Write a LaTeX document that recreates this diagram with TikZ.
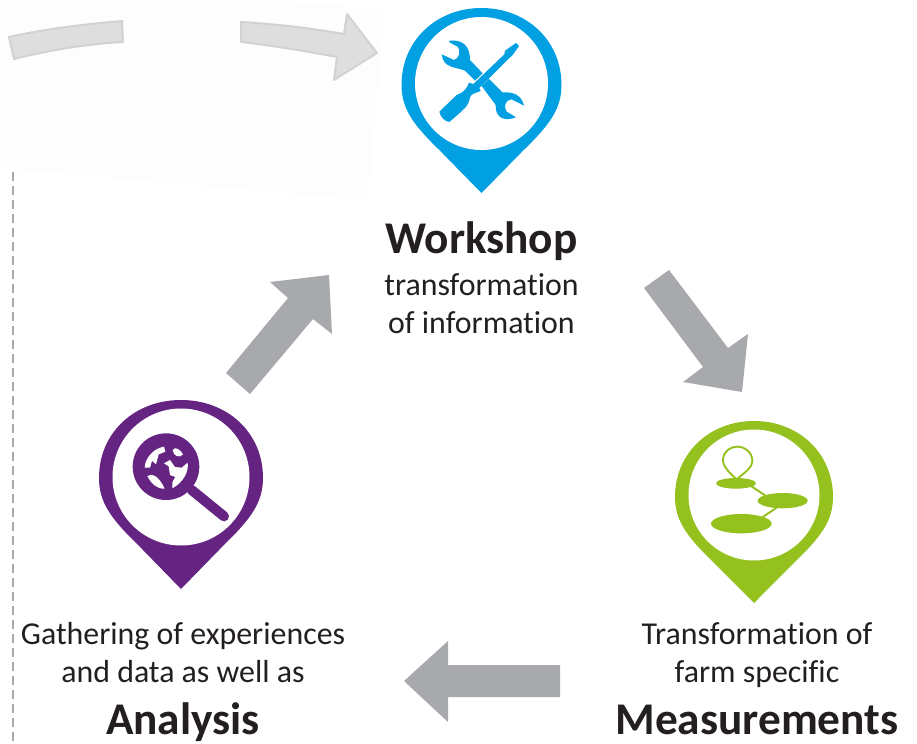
\documentclass[tikz,border=0pt]{standalone}
\usepackage{fontspec}
\setmainfont[Ligatures=NoCommon]{Carlito}
\definecolor{pinblue}{HTML}{00A0E3}
\definecolor{pinpurple}{HTML}{662482}
\definecolor{pingreen}{HTML}{95C11F}
\definecolor{arrowgrey}{HTML}{A7A9AC}
\definecolor{textdark}{HTML}{231F20}
\definecolor{patchwhite}{HTML}{FDFDFD}
\definecolor{faintgrey}{HTML}{DEDEDE}
\definecolor{faintedge}{HTML}{D2D2D2}
\newcommand{\pinmark}[7]{% cx top r midy tip innercy innerr ; colour set by scope
  \fill ({#1},{#2}) .. controls ({#1+.56*#3},{#2}) and ({#1+#3},{#4-.56*#3}) .. ({#1+#3},{#4})
    .. controls ({#1+#3},{#4+.3*#3}) and ({#1+.85*#3},{#4+.5*#3}) .. ({#1+.52*#3},{#4+.82*#3})
    -- ({#1},{#5}) -- ({#1-.52*#3},{#4+.82*#3})
    .. controls ({#1-.85*#3},{#4+.5*#3}) and ({#1-#3},{#4+.3*#3}) .. ({#1-#3},{#4})
    .. controls ({#1-#3},{#4-.56*#3}) and ({#1-.56*#3},{#2}) .. ({#1},{#2}) -- cycle;
  \fill[white] ({#1},{#6}) circle[radius=#7];
}
\tikzset{
  x=1bp,y=-1bp,
  blockarrow/.style={fill=arrowgrey,draw=none},
  faint/.style={fill=faintgrey,draw=faintedge,line width=2bp,line join=round},
  headline/.style={font=\bfseries\fontsize{45.5}{45.5}\selectfont,text=textdark,anchor=base,inner sep=0pt},
  bodyline/.style={font=\fontsize{32}{32}\selectfont,text=textdark,anchor=base,inner sep=0pt},
}
\begin{document}
\begin{tikzpicture}
\useasboundingbox (0,0) rectangle (917,744);
\fill[white] (0,0) rectangle (917,744);
% pale patch and faint arrows
\fill[patchwhite] (0,0) -- (270,0) -- (385,10) -- (367,200) -- (0,168) -- cycle;
\draw[faint] (9,37) .. controls (45,29) and (85,24) .. (122,21) -- (123,42) .. controls (87,44) and (50,50) .. (14,59) -- cycle;
\draw[faint] (241,22) .. controls (275,24) and (310,28) .. (344,34) -- (347,14) -- (377,53) -- (334,80) -- (337,57) .. controls (305,51) and (275,46) .. (241,42) -- cycle;
% dashed line
\draw[arrowgrey,line width=2.2bp,dash pattern=on 9bp off 5bp] (13,172) -- (13,744);
% block arrows
\fill[blockarrow] (226,373) -- (288,298) -- (270,282) -- (329,275) -- (332,334) -- (313,319) -- (250,394) -- cycle;
\fill[blockarrow] (644,288) -- (669,270) -- (728,348) -- (748,334) -- (742,392) -- (683,382) -- (703,367) -- cycle;
\fill[blockarrow] (404,681) -- (448,641) -- (448,665) -- (560,665) -- (560,697) -- (448,697) -- (448,722) -- cycle;
% blue pin
\begin{scope}[pinblue]
\pinmark{481.5}{8}{80}{85}{193}{83.5}{66.5}
\begin{scope}[shift={(390,10)},scale=1/3]
 \fill (178,92) .. controls (215,88) and (240,105) .. (240,150) -- (278,190) -- (255,212) -- (225,182) .. controls (195,170) and (160,175) .. (155,133) -- (192,150) .. controls (210,145) and (212,120) .. (203,110) -- (178,97) -- cycle;
 \fill (297,207) -- (337,247) .. controls (370,245) and (395,255) .. (402,287) -- (365,268) .. controls (345,270) and (340,290) .. (350,305) -- (378,322) .. controls (345,335) and (315,325) .. (317,285) -- (275,228) -- cycle;
 \fill (378,99) -- (387,108) -- (368,135) -- (354,148) -- (268,234) -- (272,243) .. controls (255,250) and (245,250) .. (240,262) .. controls (235,290) and (225,295) .. (178,336) .. controls (165,335) and (150,320) .. (148,305) -- (200,255) .. controls (225,245) and (230,235) .. (237,218) -- (250,222) -- (343,133) -- (345,122) -- cycle;
\end{scope}
\end{scope}
% purple pin
\begin{scope}[pinpurple]
\pinmark{181}{400}{82}{478}{589}{477}{68.5}
\begin{scope}[shift={(90,395)},scale=1/3]
 \fill (228,215) circle[radius=100];
 \draw[line width=10bp,line cap=round] (305,285) -- (402,364);
 \begin{scope}[white]
 \fill (164,218) .. controls (165,190) and (190,160) .. (222,155) -- (226,170) -- (206,178) -- (198,208) -- (186,197) -- (180,218) -- cycle;
 \fill (248,165) .. controls (255,152) and (272,165) .. (279,178) .. controls (270,190) and (250,185) .. (248,165) -- cycle;
 \fill (293,203) .. controls (297,230) and (280,262) .. (247,280) -- (247,262) -- (256,246) -- (240,240) -- (236,214) -- (222,205) -- (240,195) -- (255,216) -- (275,218) -- cycle;
 \fill (172,243) .. controls (185,235) and (205,240) .. (224,281) .. controls (200,282) and (183,265) .. (172,243) -- cycle;
 \end{scope}
\end{scope}
\end{scope}
% green pin
\begin{scope}[pingreen]
\pinmark{754}{421}{79}{497}{603}{495}{65.5}
\begin{scope}[shift={(665,410)},scale=1/3]
 \draw[line width=1.9bp] (215,208) .. controls (195,190) and (174,170) .. (174,150) .. controls (174,125) and (195,110) .. (217,110) .. controls (240,110) and (262,128) .. (262,152) .. controls (262,175) and (235,190) .. (215,208) -- cycle;
 \fill (213,220) ellipse[x radius=60,y radius=16];
 \fill (353,272) ellipse[x radius=75,y radius=23];
 \fill (229,341) ellipse[x radius=91,y radius=29];
 \draw[line width=2bp] (258,228) -- (300,256);
 \draw[line width=2bp] (335,293) -- (293,321);
\end{scope}
\end{scope}
% texts
\node[headline] (workshop) at (481.5,253.5) {Workshop};
\node[bodyline] (ws1) at (481.5,295.5) {transformation};
\node[bodyline] (ws2) at (481.5,333.5) {of information};
\node[bodyline] (an1) at (183,644.5) {Gathering of experiences};
\node[bodyline] (an2) at (183,682.5) {and data as well as};
\node[headline] (analysis) at (183,734) {Analysis};
\node[bodyline] (me1) at (757,644.5) {Transformation of};
\node[bodyline] (me2) at (757,682.5) {farm specific};
\node[headline] (measure) at (757,734) {Measurements};
\end{tikzpicture}
\end{document}
